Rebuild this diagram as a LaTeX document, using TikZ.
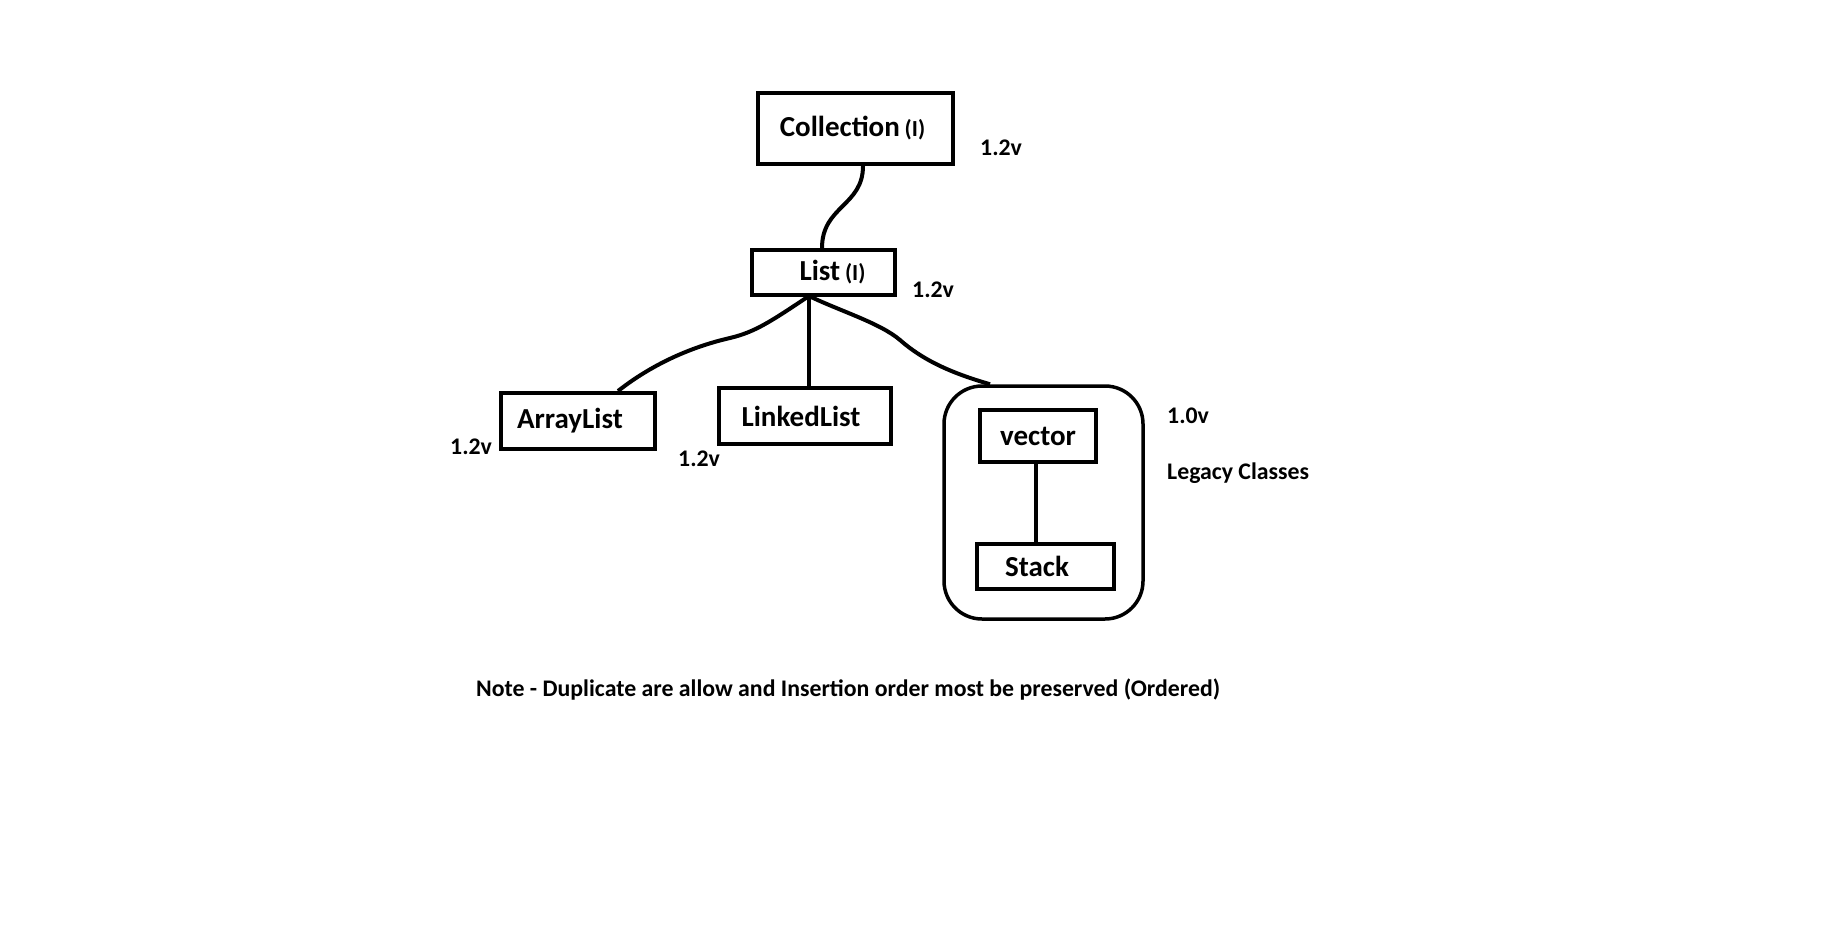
\documentclass[tikz,border=0pt]{standalone}
\usepackage{fontspec}
\setmainfont{Carlito}
\begin{document}
\begin{tikzpicture}[x=1pt,y=-1pt,
  box/.style={draw,line width=4pt,inner sep=0pt,font=\fontsize{29}{31}\selectfont\bfseries},
  lbl/.style={inner sep=0pt,anchor=base west,font=\fontsize{23.8}{26}\selectfont\bfseries},
  conn/.style={line width=4pt}]
\useasboundingbox[fill=white] (0,0) rectangle (1822,934);
% boxes
\node[box,minimum width=195pt,minimum height=71pt] (coll) at (855.5,128.5)
  {Collection\,{\fontsize{23}{25}\selectfont(I)}\hspace*{6pt}};
\node[box,minimum width=143pt,minimum height=45pt] (list) at (823.5,272.5)
  {\hspace*{18pt}List\,{\fontsize{23}{25}\selectfont(I)}};
\node[box,minimum width=154pt,minimum height=56pt] (alist) at (578,421)
  {ArrayList\hspace*{16pt}};
\node[box,minimum width=172pt,minimum height=56pt] (llist) at (805,416)
  {LinkedList\hspace*{8pt}};
\node[draw,line width=3.5pt,rounded corners=38pt,minimum width=199pt,minimum height=233pt,inner sep=0pt] (legacy) at (1043.5,502.5) {};
\node[box,minimum width=116pt,minimum height=52pt] (vec) at (1038,436) {vector};
\node[box,minimum width=137pt,minimum height=45pt] (stack) at (1045.5,566.5)
  {Stack\hspace*{17pt}};
% hub
\coordinate (hub) at (809,296);
% connectors
\draw[conn] ([xshift=7.5pt]coll.south) .. controls ([xshift=7.5pt,yshift=-40pt]coll.south) and ([xshift=-1.5pt,yshift=42pt]list.north) .. ([xshift=-1.5pt]list.north);
\draw[conn] (hub) .. controls (770,322) and (755,332) .. (730,338)
  .. controls (695,346) and (655,362) .. ([xshift=40pt]alist.north);
\draw[conn] (hub) -- (hub |- llist.north);
\draw[conn] (hub) .. controls (840,311) and (880,323) .. (900,340)
  .. controls (925,362) and (955,374) .. ([xshift=-53.5pt]legacy.north);
\draw[conn] ([xshift=-2pt]vec.south) -- ([xshift=-2pt]vec.south |- stack.north);
% labels
\node[lbl] (v1) at (980,155) {1.2v};
\node[lbl] (v2) at (912,297) {1.2v};
\node[lbl] (v3) at (450,454) {1.2v};
\node[lbl] (v4) at (678,466) {1.2v};
\node[lbl] (v5) at (1167,423) {1.0v};
\node[lbl] (leg) at (1167,479) {Legacy Classes};
\node[lbl] (note) at (476,696) {Note - Duplicate are allow and Insertion order most be preserved (Ordered)};
\end{tikzpicture}
\end{document}
